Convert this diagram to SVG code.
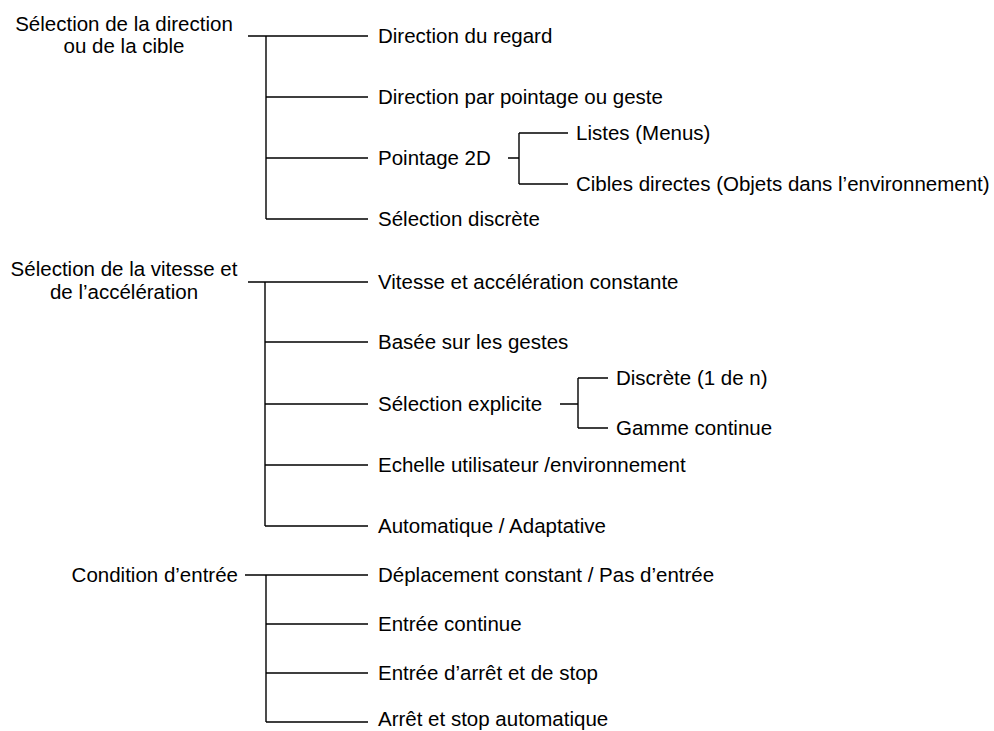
<svg xmlns="http://www.w3.org/2000/svg" width="994" height="731" viewBox="0 0 994 731">
  <style>
    text { font-family: "Liberation Sans", Arial, sans-serif; font-size: 20.5px; fill: #000; }
    .mid { text-anchor: middle; }
    .end { text-anchor: end; }
    .wire { stroke: #000; stroke-width: 1.4; fill: none; stroke-linecap: butt; }
  </style>
  <rect width="994" height="731" fill="#fff"/>

  <!-- tree connectors -->
  <g id="connectors" class="wire">
    <!-- direction / target -->
    <path d="M248 36H368 M266 36V219 M266 97H368 M266 158H368 M266 219H368"/>
    <path d="M508 158H519 M519 133V184 M519 133H568 M519 184H568"/>
    <!-- speed / acceleration -->
    <path d="M248 282H368 M265 282V526 M265 342H368 M265 404H368 M265 465H368 M265 526H368"/>
    <path d="M560 404H578 M578 378V428 M578 378H608 M578 428H608"/>
    <!-- input condition -->
    <path d="M245 575H368 M266 575V722 M266 624H368 M266 673H368 M266 722H368"/>
  </g>

  <!-- roots -->
  <g id="root-direction">
    <text class="mid" x="124" y="31">Sélection de la direction</text>
    <text class="mid" x="124" y="53">ou de la cible</text>
  </g>
  <g id="root-speed">
    <text class="mid" x="124" y="276">Sélection de la vitesse et</text>
    <text class="mid" x="124" y="299">de l’accélération</text>
  </g>
  <g id="root-input">
    <text class="end" x="238" y="582">Condition d’entrée</text>
  </g>

  <!-- direction children -->
  <g id="dir-gaze"><text x="378" y="43">Direction du regard</text></g>
  <g id="dir-pointing"><text x="378" y="104">Direction par pointage ou geste</text></g>
  <g id="dir-2d"><text x="378" y="165">Pointage 2D</text></g>
  <g id="dir-2d-lists"><text x="576" y="140">Listes (Menus)</text></g>
  <g id="dir-2d-targets"><text x="576" y="191">Cibles directes (Objets dans l’environnement)</text></g>
  <g id="dir-discrete"><text x="378" y="226">Sélection discrète</text></g>

  <!-- speed children -->
  <g id="spd-constant"><text x="378" y="289">Vitesse et accélération constante</text></g>
  <g id="spd-gesture"><text x="378" y="349">Basée sur les gestes</text></g>
  <g id="spd-explicit"><text x="378" y="411">Sélection explicite</text></g>
  <g id="spd-explicit-discrete"><text x="616" y="385">Discrète (1 de n)</text></g>
  <g id="spd-explicit-range"><text x="616" y="435">Gamme continue</text></g>
  <g id="spd-scale"><text x="378" y="472">Echelle utilisateur /environnement</text></g>
  <g id="spd-auto"><text x="378" y="533">Automatique / Adaptative</text></g>

  <!-- input children -->
  <g id="in-constant"><text x="378" y="582">Déplacement constant / Pas d’entrée</text></g>
  <g id="in-continuous"><text x="378" y="631">Entrée continue</text></g>
  <g id="in-startstop"><text x="378" y="680">Entrée d’arrêt et de stop</text></g>
  <g id="in-auto"><text x="378" y="726">Arrêt et stop automatique</text></g>
</svg>
